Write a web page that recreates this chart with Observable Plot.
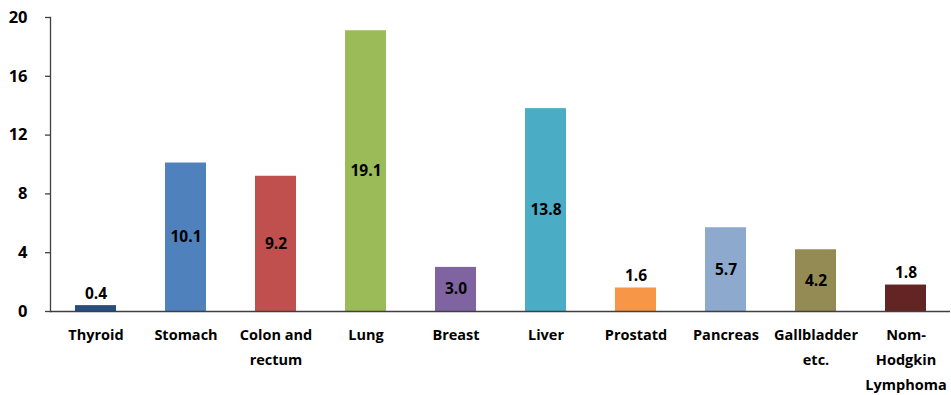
<!DOCTYPE html>
<html>
<head>
<meta charset="utf-8">
<script src="https://cdn.jsdelivr.net/npm/d3@7"></script>
<script src="https://cdn.jsdelivr.net/npm/@observablehq/plot@0.6"></script>
<style>
  html, body { margin: 0; padding: 0; background: #fff; }
  #chart svg { display: block; }
</style>
</head>
<body>
<div id="chart"></div>
<script>
const categories = ["Thyroid", "Stomach", "Colon and rectum", "Lung", "Breast", "Liver", "Prostatd", "Pancreas", "Gallbladder etc.", "Nom-Hodgkin Lymphoma"];
const tickLabels = ["Thyroid", "Stomach", "Colon and\nrectum", "Lung", "Breast", "Liver", "Prostatd", "Pancreas", "Gallbladder\netc.", "Nom-\nHodgkin\nLymphoma"];
const values = [0.4, 10.1, 9.2, 19.1, 3.0, 13.8, 1.6, 5.7, 4.2, 1.8];
const colors = ["#254E7F", "#4F81BD", "#C0504D", "#9BBB59", "#8064A2", "#4BACC6", "#F79646", "#8EA9CE", "#948A54", "#632523"];
const yTicks = [0, 4, 8, 12, 16, 20];

const data = categories.map((c, i) => ({cat: c, value: values[i], color: colors[i], label: tickLabels[i]}));
const inside = data.filter(d => d.value >= 3);
const above = data.filter(d => d.value < 3);
const font = "'Open Sans', 'Noto Sans', sans-serif";

const chart = Plot.plot({
  width: 951,
  height: 395,
  marginLeft: 50,
  marginRight: 1,
  marginTop: 17,
  marginBottom: 84,
  style: {fontFamily: font, background: "#fff"},
  x: {domain: categories, paddingInner: 0.545, paddingOuter: 0.2725},
  y: {domain: [0, 20]},
  marks: [
    Plot.barY(data, {x: "cat", y: "value", fill: "color"}),
    Plot.ruleY([0], {stroke: "#404040", strokeWidth: 1.5}),
    Plot.frame({anchor: "left", stroke: "#404040", strokeWidth: 1.3}),
    Plot.axisY({ticks: yTicks, tickSize: 5, tickPadding: 18, label: null, fontSize: 16.5, fontWeight: "bold", fill: "#000", stroke: "#404040", strokeWidth: 1.3}),
    Plot.axisX({tickSize: 0, tickPadding: 10, label: null, lineAnchor: "top", lineHeight: 1.75, fontSize: 14.5, fontWeight: "bold", fill: "#000",
      tickFormat: c => tickLabels[categories.indexOf(c)]}),
    Plot.text(inside, {x: "cat", y: d => d.value / 2, text: d => d.value.toFixed(1), fontSize: 15.5, fontWeight: "bold", fill: "#000"}),
    Plot.text(above, {x: "cat", y: "value", dy: -12, text: d => d.value.toFixed(1), fontSize: 15.5, fontWeight: "bold", fill: "#000"})
  ]
});
document.getElementById("chart").append(chart);
</script>
</body>
</html>
